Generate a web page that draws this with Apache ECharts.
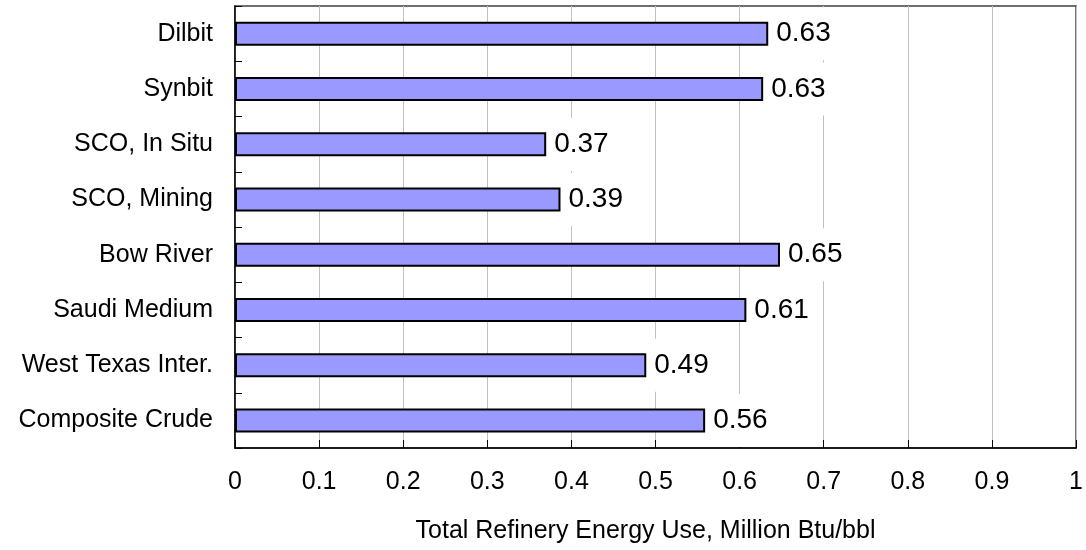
<!DOCTYPE html>
<html>
<head>
<meta charset="utf-8">
<title>Total Refinery Energy Use</title>
<script src="https://cdn.jsdelivr.net/npm/echarts@6/dist/echarts.min.js"></script>
<style>
  html, body { margin: 0; padding: 0; background: #ffffff; }
  #chart { width: 1086px; height: 550px; }
</style>
</head>
<body>
<div id="chart"></div>
<script>
// Crude types, listed top to bottom
const categories = [
  'Dilbit',
  'Synbit',
  'SCO, In Situ',
  'SCO, Mining',
  'Bow River',
  'Saudi Medium',
  'West Texas Inter.',
  'Composite Crude'
];

// Total refinery energy use, million Btu per barrel
const energyUse = [0.634, 0.628, 0.370, 0.387, 0.648, 0.608, 0.489, 0.559];

const axisTitle = 'Total Refinery Energy Use, Million Btu/bbl';

const FONT = '"Liberation Sans", Arial, sans-serif';

const chart = echarts.init(document.getElementById('chart'), null, { renderer: 'canvas' });

chart.setOption({
  animation: false,
  backgroundColor: '#ffffff',
  grid: {
    left: 235,
    right: 9,
    top: 6,
    bottom: 102,
    show: true,
    borderColor: '#404040',
    borderWidth: 1.5,
    backgroundColor: 'transparent'
  },
  xAxis: {
    type: 'value',
    min: 0,
    max: 1,
    interval: 0.1,
    name: axisTitle,
    nameLocation: 'middle',
    nameGap: 71,
    nameTextStyle: { fontFamily: FONT, fontSize: 25, color: '#000', padding: [0, 20, 0, 0] },
    axisLine: { show: true, lineStyle: { color: '#000', width: 1.5 } },
    axisTick: { show: true, inside: true, length: 8, lineStyle: { color: '#000', width: 1 } },
    axisLabel: { fontFamily: FONT, fontSize: 25, color: '#000', margin: 22 },
    splitLine: { show: true, lineStyle: { color: '#c0c0c0', width: 1 } }
  },
  yAxis: {
    type: 'category',
    data: categories,
    inverse: true,
    axisLine: { show: true, lineStyle: { color: '#000', width: 1.5 } },
    axisTick: { show: true, inside: true, length: 7, lineStyle: { color: '#000', width: 1 } },
    axisLabel: { fontFamily: FONT, fontSize: 25, color: '#000', margin: 22 },
    splitLine: { show: false }
  },
  series: [{
    type: 'bar',
    data: energyUse,
    barWidth: 24,
    itemStyle: { color: '#9999ff', borderColor: '#000', borderWidth: 2 },
    label: {
      show: true,
      position: 'right',
      distance: 3,
      fontFamily: FONT,
      fontSize: 28,
      lineHeight: 28,
      color: '#000',
      backgroundColor: '#ffffff',
      padding: [13, 5, 12, 5],
      formatter: p => p.value.toFixed(2)
    }
  }]
});
</script>
</body>
</html>
